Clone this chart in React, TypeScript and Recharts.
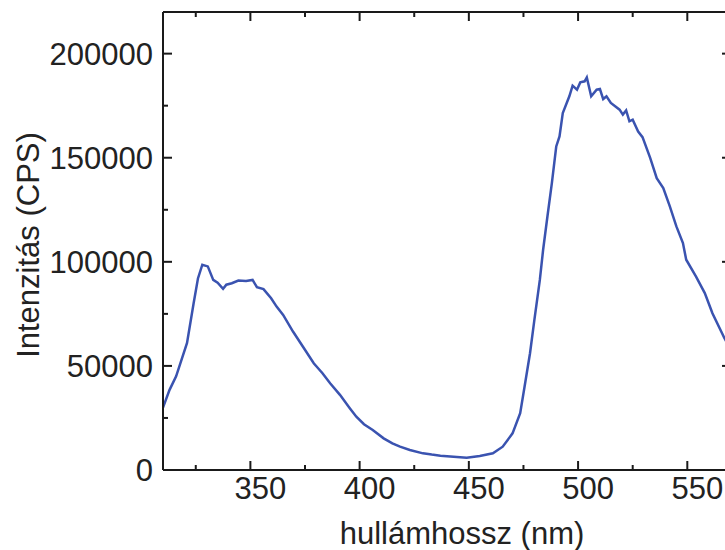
import { LineChart, Line, XAxis, YAxis, ReferenceLine } from 'recharts'

// emission spectrum
const wavelength = [
  310, 313, 316, 321, 324, 326, 328, 330.5, 333, 335, 337.5, 339, 341.5, 344.5,
  348, 351, 353, 356, 359.5, 362, 365, 369.5, 374, 379, 383, 386.5, 391, 395.5,
  398.5, 402, 406, 411, 415, 418.5, 423, 429, 433, 437, 443, 449, 455, 461,
  465.5, 470, 473.5, 475.5, 478, 480, 482.5, 484, 486, 488, 490, 491.5, 493,
  496, 497.5, 499.5, 501, 503, 504, 506, 508.5, 510, 511.5, 513, 515, 519,
  520.5, 522, 523.5, 525, 527.5, 529.5, 533, 536, 539, 542, 545, 548, 549.5,
  554, 558, 561.5, 567, 570,
]
const intensity = [
  30000, 38500, 45000, 61000, 80000, 92000, 98600, 97800, 91300, 90000, 87000,
  89000, 89700, 91000, 90800, 91300, 87800, 86900, 82500, 78500, 74500, 66500,
  59300, 51300, 46500, 41700, 36100, 29700, 25600, 22000, 19200, 15200, 12800,
  11200, 9600, 8000, 7400, 6900, 6400, 5900, 6700, 8000, 11200, 17600, 27300,
  40000, 56100, 72100, 91300, 105800, 122000, 137800, 155400, 160200, 171500,
  179500, 184600, 182700, 186200, 186700, 188600, 179500, 182700, 183000,
  178200, 179500, 176300, 173100, 170700, 172700, 167500, 168300, 162600,
  159900, 149900, 140200, 135400, 126600, 117000, 109000, 101000, 92900, 85000,
  75300, 63300, 57500,
]
const xTicks = [325, 350, 375, 400, 425, 450, 475, 500, 525, 550]
const yTicks = [0, 25000, 50000, 75000, 100000, 125000, 150000, 175000, 200000]
const xDomain = [310, 570]
const yDomain = [0, 220000]

const data = wavelength.map((nm, i) => ({ nm, cps: intensity[i] }))

const W = 745
const H = 550
const M = { top: 12, right: 14, bottom: 0, left: 0 }
const X_AXIS_H = 80
const Y_AXIS_W = 163
const PLOT_LEFT = M.left + Y_AXIS_W
const PLOT_RIGHT = W - M.right
const PLOT_TOP = M.top
const PLOT_BOTTOM = H - M.bottom - X_AXIS_H

const MAJOR = 9
const MINOR = 5

const INK = '#1a1a1a'
const TEXT = '#222'
const FONT = '"Liberation Sans", Arial, sans-serif'
const axisLine = { stroke: INK, strokeWidth: 2 }

// same linear mapping as the chart's plot box, used only for the frame ticks
const px = (v: number) =>
  PLOT_LEFT + ((v - xDomain[0]) / (xDomain[1] - xDomain[0])) * (PLOT_RIGHT - PLOT_LEFT)
const py = (v: number) =>
  PLOT_BOTTOM - ((v - yDomain[0]) / (yDomain[1] - yDomain[0])) * (PLOT_BOTTOM - PLOT_TOP)

const BottomLabel = (props: any) => {
  const { x, y, payload } = props
  if (payload.value % 50 !== 0) return <g />
  return (
    <text x={x + 10} y={y + 29} textAnchor="middle" fontSize={31} fill={TEXT} fontFamily={FONT}>
      {payload.value}
    </text>
  )
}

const LeftLabel = (props: any) => {
  const { x, y, payload } = props
  if (payload.value % 50000 !== 0) return <g />
  return (
    <text x={x - 10} y={y + 11} textAnchor="end" fontSize={31} fill={TEXT} fontFamily={FONT}>
      {payload.value}
    </text>
  )
}

export default function App() {
  return (
    <div
      style={{
        position: 'absolute',
        left: 0,
        top: 0,
        width: 725,
        height: 550,
        overflow: 'hidden',
        background: '#fff',
      }}
    >
      <LineChart width={W} height={H} data={data} margin={M}>
        <XAxis
          dataKey="nm"
          type="number"
          domain={xDomain}
          allowDataOverflow
          ticks={xTicks}
          interval={0}
          height={X_AXIS_H}
          tickSize={0}
          tickMargin={0}
          tickLine={false}
          axisLine={axisLine}
          tick={BottomLabel}
        />
        <YAxis
          type="number"
          domain={yDomain}
          ticks={yTicks}
          interval={0}
          width={Y_AXIS_W}
          tickSize={0}
          tickMargin={0}
          tickLine={false}
          axisLine={axisLine}
          tick={LeftLabel}
        />
        <ReferenceLine y={yDomain[1]} stroke={INK} strokeWidth={2} />
        <ReferenceLine x={xDomain[1]} stroke={INK} strokeWidth={2} />
        <Line
          dataKey="cps"
          type="linear"
          stroke="#3a53b0"
          strokeWidth={2.5}
          dot={false}
          isAnimationActive={false}
        />
      </LineChart>
      <svg
        width={725}
        height={550}
        style={{ position: 'absolute', left: 0, top: 0, pointerEvents: 'none' }}
      >
        {xTicks.map((v) => {
          const len = v % 50 === 0 ? MAJOR : MINOR
          const x = px(v)
          return (
            <g key={`xt-${v}`} stroke={INK} strokeWidth={2}>
              <line x1={x} x2={x} y1={PLOT_BOTTOM} y2={PLOT_BOTTOM - len} />
              <line x1={x} x2={x} y1={PLOT_TOP} y2={PLOT_TOP + len} />
            </g>
          )
        })}
        {yTicks.map((v) => {
          const len = v % 50000 === 0 ? MAJOR : MINOR
          const y = py(v)
          return (
            <g key={`yt-${v}`} stroke={INK} strokeWidth={2}>
              <line x1={PLOT_LEFT} x2={PLOT_LEFT + len} y1={y} y2={y} />
              <line x1={PLOT_RIGHT} x2={PLOT_RIGHT - len} y1={y} y2={y} />
            </g>
          )
        })}
        <text x={462} y={544} textAnchor="middle" fontSize={31} fill={TEXT} fontFamily={FONT}>
          hullámhossz (nm)
        </text>
        <text
          x={39}
          y={245}
          textAnchor="middle"
          fontSize={31}
          fill={TEXT}
          fontFamily={FONT}
          transform="rotate(-90, 39, 245)"
        >
          Intenzitás (CPS)
        </text>
      </svg>
    </div>
  )
}
